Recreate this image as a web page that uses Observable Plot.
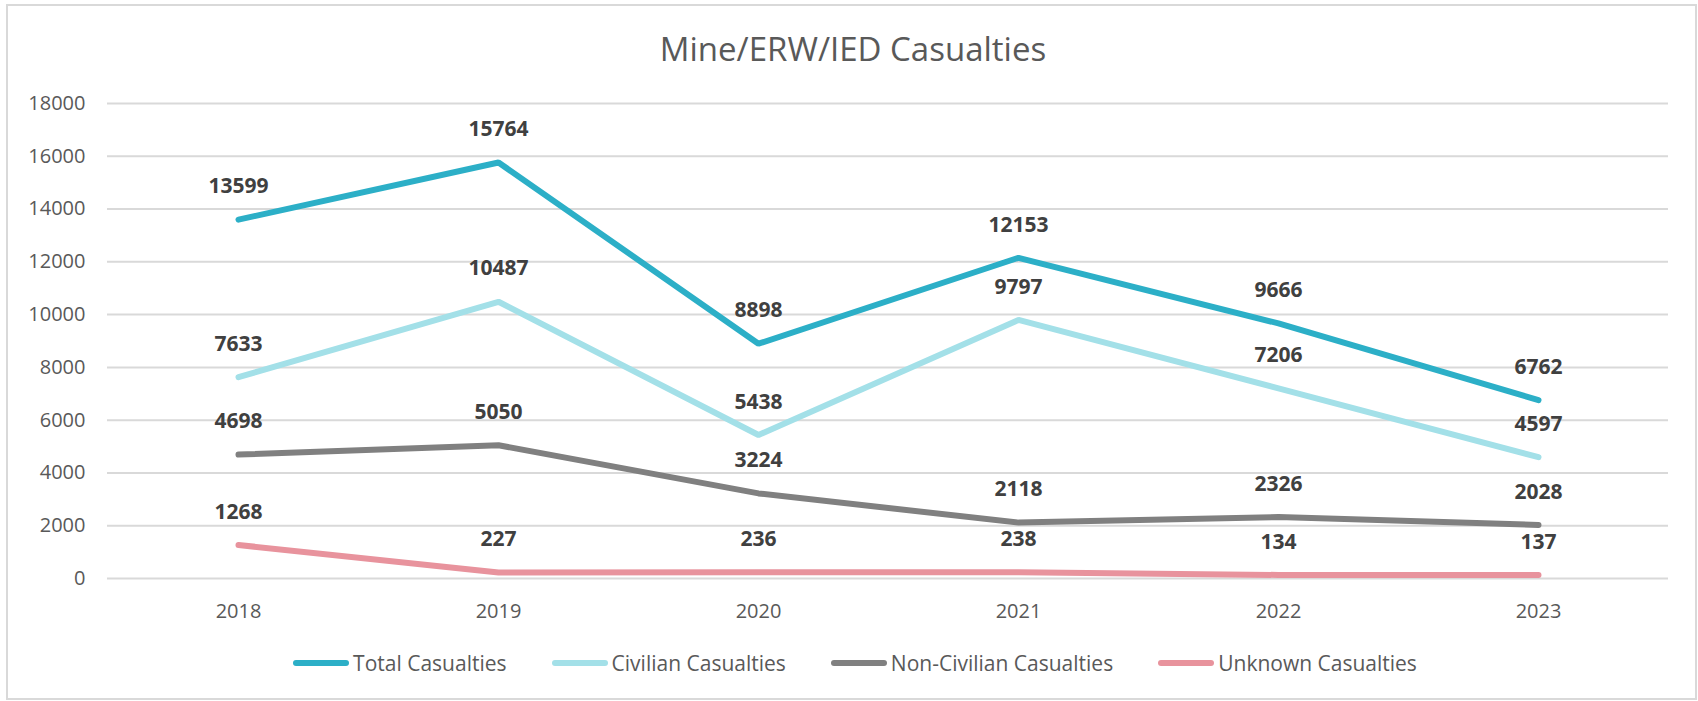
<!DOCTYPE html>
<html>
<head>
<meta charset="utf-8">
<script src="https://cdn.jsdelivr.net/npm/d3@7"></script>
<script src="https://cdn.jsdelivr.net/npm/@observablehq/plot@0.6"></script>
<style>
  html, body { margin: 0; padding: 0; background: #fff; }
  #wrap { position: relative; width: 1698px; height: 701px; overflow: hidden; font-family: "Open Sans", sans-serif; }
  #frame { position: absolute; left: 6px; top: 4px; width: 1687px; height: 692px; border: 2px solid #d9d9d9; }
  #title { position: absolute; left: 4px; top: 32px; width: 1698px; text-align: center; font-size: 33px; line-height: 33px; color: #595959; }
  #chart { position: absolute; left: 0; top: 70px; }
  #legend { position: absolute; left: 6px; top: 648px; width: 1698px; height: 30px; display: flex; justify-content: center; align-items: center; gap: 45px; font-size: 21px; color: #595959; }
  .item { display: flex; align-items: center; }
  .sw { width: 56px; height: 6px; border-radius: 3px; margin-right: 4px; }
</style>
</head>
<body>
<div id="wrap">
  <div id="frame"></div>
  <div id="title">Mine/ERW/IED Casualties</div>
  <div id="chart"></div>
  <div id="legend"></div>
</div>
<script>
const years = ["2018", "2019", "2020", "2021", "2022", "2023"];
const seriesNames = ["Total Casualties", "Civilian Casualties", "Non-Civilian Casualties", "Unknown Casualties"];
const total = [13599, 15764, 8898, 12153, 9666, 6762];
const civilian = [7633, 10487, 5438, 9797, 7206, 4597];
const nonCivilian = [4698, 5050, 3224, 2118, 2326, 2028];
const unknown = [1268, 227, 236, 238, 134, 137];
const yTicks = [0, 2000, 4000, 6000, 8000, 10000, 12000, 14000, 16000, 18000];
const colors = ["#2cafc7", "#a3e0e8", "#808080", "#e8939d"];

const seriesValues = [total, civilian, nonCivilian, unknown];
const data = [];
seriesNames.forEach((name, i) => {
  years.forEach((yr, j) => data.push({series: name, year: yr, value: seriesValues[i][j]}));
});

const chart = Plot.plot({
  width: 1698,
  height: 560,
  marginLeft: 107,
  marginRight: 30,
  marginTop: 33,
  marginBottom: 52,
  style: {fontFamily: "Open Sans", fontSize: "20px", color: "#595959", background: "transparent"},
  x: {type: "point", domain: years, padding: 0.5, label: null},
  y: {domain: [0, 18000], label: null},
  color: {domain: seriesNames, range: colors},
  marks: [
    Plot.gridY(yTicks, {stroke: "#d9d9d9", strokeOpacity: 1, strokeWidth: 2}),
    Plot.axisY(yTicks, {tickSize: 0, tickPadding: 22, fontSize: 20, tickFormat: d => String(d), label: null}),
    Plot.axisX({tickSize: 0, tickPadding: 25, fontSize: 20, label: null}),
    Plot.line(data, {x: "year", y: "value", z: "series", stroke: "series", strokeWidth: 6, strokeLinecap: "round", strokeLinejoin: "miter"}),
    Plot.text(data, {x: "year", y: "value", text: d => String(d.value), dy: -33, fontSize: 21, fontWeight: "bold", fill: "#404040"})
  ]
});
document.getElementById("chart").appendChild(chart);

const legend = document.getElementById("legend");
seriesNames.forEach((name, i) => {
  const item = document.createElement("div");
  item.className = "item";
  const sw = document.createElement("div");
  sw.className = "sw";
  sw.style.background = colors[i];
  const t = document.createElement("span");
  t.textContent = name;
  item.appendChild(sw);
  item.appendChild(t);
  legend.appendChild(item);
});
</script>
</body>
</html>
